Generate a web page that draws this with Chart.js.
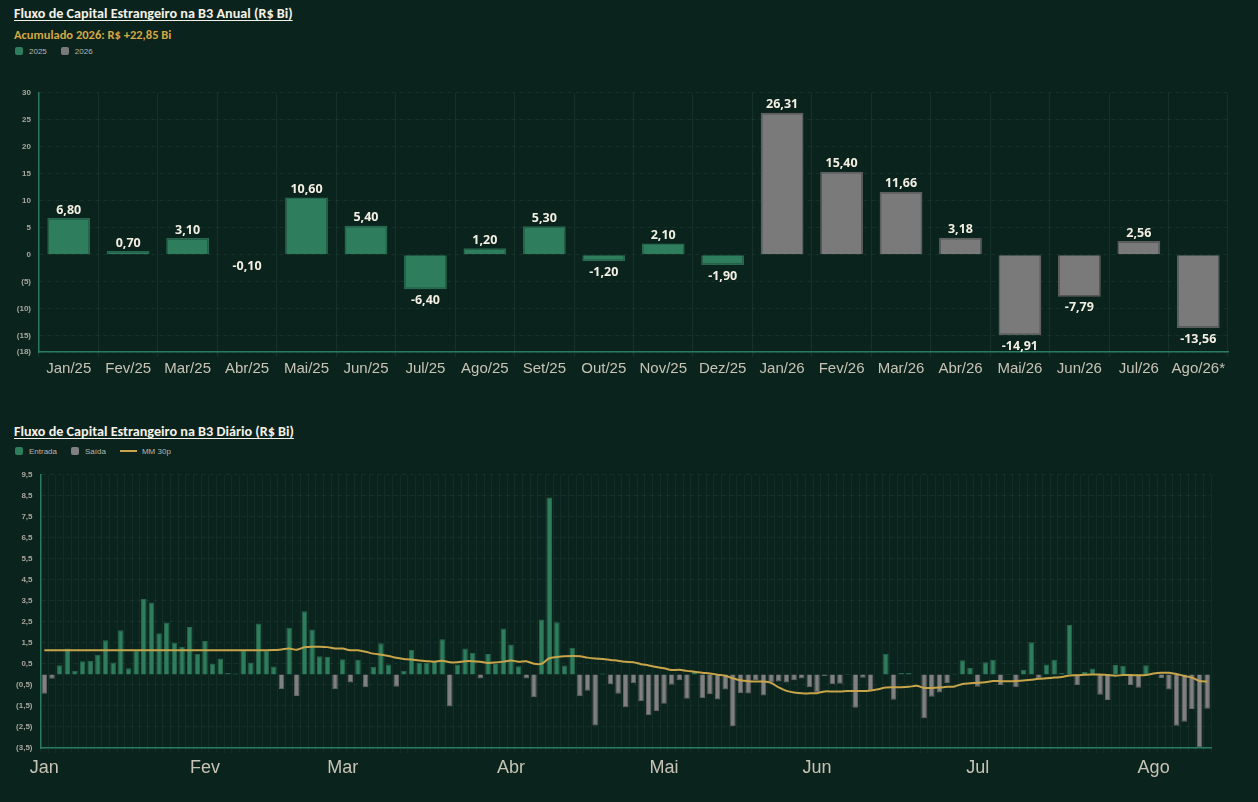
<!DOCTYPE html>
<html lang="pt-BR">
<head>
<meta charset="utf-8">
<title>Fluxo de Capital Estrangeiro na B3</title>
<script src="https://cdn.jsdelivr.net/npm/chart.js@4.4.1/dist/chart.umd.min.js"></script>
<style>
  html, body { margin: 0; padding: 0; background: #0b231d; }
  body {
    width: 1258px; height: 802px; position: relative; overflow: hidden;
    font-family: Carlito, "Liberation Sans Narrow", "DejaVu Sans Condensed", sans-serif;
  }
  .titulo {
    position: absolute; left: 14px; margin: 0;
    color: #f4f1e8; font-weight: 700; font-size: 14.2px; line-height: 16px;
    text-decoration: underline; text-underline-offset: 2px; white-space: nowrap;
  }
  .subtitulo {
    position: absolute; left: 14px; top: 28px; margin: 0;
    color: #d4a843; font-weight: 700; font-size: 12.5px; line-height: 14px;
  }
  .legenda {
    position: absolute; left: 15px; display: flex; align-items: center;
    font-family: "Liberation Sans", sans-serif; font-size: 8px; color: #b7b7b2; height: 10px;
  }
  .item { display: flex; align-items: center; margin-right: 14px; }
  .caixa { width: 8px; height: 8px; border-radius: 2px; margin-right: 6px; }
  .linha { width: 17px; height: 2px; background: #c8a54a; margin-right: 5px; }
  .grafico { position: absolute; left: 0; width: 1258px; }
</style>
</head>
<body>

<h1 class="titulo" style="top:5px">Fluxo de Capital Estrangeiro na B3 Anual (R$ Bi)</h1>
<p class="subtitulo">Acumulado 2026: R$ +22,85 Bi</p>
<div class="legenda" style="top:46px">
  <span class="item"><span class="caixa" style="background:#2e7d5c"></span>2025</span>
  <span class="item"><span class="caixa" style="background:#7a7a7a"></span>2026</span>
</div>
<div class="grafico" style="top:80px; height:300px"><canvas id="grafico-anual"></canvas></div>

<h1 class="titulo" style="top:423px">Fluxo de Capital Estrangeiro na B3 Diário (R$ Bi)</h1>
<div class="legenda" style="top:446px">
  <span class="item"><span class="caixa" style="background:#2e7d5c"></span>Entrada</span>
  <span class="item"><span class="caixa" style="background:#808080"></span>Saída</span>
  <span class="item"><span class="linha"></span>MM 30p</span>
</div>
<div class="grafico" style="top:462px; height:326px"><canvas id="grafico-diario"></canvas></div>

<script>
// Anual section
const rotulosAnual = [
  "Jan/25", "Fev/25", "Mar/25", "Abr/25", "Mai/25", "Jun/25", "Jul/25", "Ago/25",
  "Set/25", "Out/25", "Nov/25", "Dez/25",
  "Jan/26", "Fev/26", "Mar/26", "Abr/26", "Mai/26", "Jun/26", "Jul/26", "Ago/26*"
];
const fluxo2025 = [6.80, 0.70, 3.10, -0.10, 10.60, 5.40, -6.40, 1.20, 5.30, -1.20, 2.10, -1.90];
const fluxo2026 = [26.31, 15.40, 11.66, 3.18, -14.91, -7.79, 2.56, -13.56];
const ticksAnual = [-18, -15, -10, -5, 0, 5, 10, 15, 20, 25, 30];

// Diario section
const mesesDiario = ["Jan", "Fev", "Mar", "Abr", "Mai", "Jun", "Jul", "Ago"];
const pregoesPorMes = [21, 18, 22, 20, 20, 21, 23, 8];
const fluxoDiario = [
  // Jan
  -0.92, -0.21, 0.44, 1.24, 0.18, 0.63, 0.65, 0.94, 1.63, 0.57, 2.10,
  0.30, 1.13, 3.59, 3.42, 1.96, 2.47, 1.52, 1.32, 2.26, 0.98,
  // Fev
  1.59, 0.51, 0.76, 0.07, 0.04, 1.15, 0.57, 2.43, 1.13, 0.38, -0.70,
  2.22, -1.03, 3.01, 2.14, 0.86, 0.83, -0.71,
  // Mar
  0.72, -0.38, 0.70, -0.61, 0.37, 1.48, 0.47, -0.58, 0.17, 1.17, 0.56,
  0.56, 0.63, 1.68, -1.52, 0.47, 1.24, 1.03, -0.19, 0.97, 0.50, 2.19,
  // Abr
  1.42, 0.39, -0.19, -1.08, 2.62, 8.42, 2.48, 0.42, 1.27, -1.04,
  -0.77, -2.43, 0.04, -0.47, -0.92, -1.56, -0.42, -1.28, -1.94, -1.75,
  // Mai
  -1.39, -0.49, -0.28, -1.16, 0.12, -1.13, -0.94, -1.19, -0.72, -2.46,
  -0.89, -0.91, -0.27, -1.00, -0.38, -0.34, -0.38, -0.28, -0.19, -0.61,
  // Jun
  -0.85, -0.07, -0.47, -0.44, 0.03, -1.58, -0.16, -0.78, 0, 0.99, -1.21,
  0.07, 0.07, 0, -2.08, -1.06, -0.86, -0.41, 0.03, 0.67, 0.31,
  // Jul
  -0.59, 0.58, 0.70, -0.50, 0.02, -0.61, 0.22, 1.53, -0.19, 0.47, 0.70, 0.07,
  2.36, -0.50, 0.12, 0.28, -0.97, -1.22, 0.45, 0.41, -0.50, -0.63, 0.44,
  // Ago
  0, -0.17, -0.72, -2.44, -2.25, -1.64, -3.47, -1.63
];
const mediaMovel30 = [
  // Jan
  1.15, 1.15, 1.15, 1.15, 1.15, 1.15, 1.15, 1.15, 1.15, 1.15, 1.15,
  1.15, 1.15, 1.15, 1.15, 1.15, 1.15, 1.15, 1.15, 1.15, 1.15,
  // Fev
  1.15, 1.15, 1.15, 1.15, 1.15, 1.15, 1.15, 1.15, 1.15, 1.16, 1.19,
  1.23, 1.18, 1.29, 1.32, 1.32, 1.30, 1.24,
  // Mar
  1.23, 1.15, 1.15, 1.08, 0.99, 0.94, 0.88, 0.79, 0.74, 0.71, 0.66,
  0.63, 0.61, 0.65, 0.58, 0.58, 0.63, 0.63, 0.60, 0.55, 0.57, 0.61,
  // Abr
  0.66, 0.61, 0.63, 0.51, 0.51, 0.77, 0.83, 0.87, 0.88, 0.87,
  0.80, 0.76, 0.74, 0.69, 0.65, 0.60, 0.58, 0.49, 0.43, 0.35,
  // Mai
  0.29, 0.21, 0.22, 0.17, 0.13, 0.08, 0.05, -0.01, -0.06, -0.18,
  -0.28, -0.32, -0.34, -0.34, -0.40, -0.62, -0.78, -0.86, -0.90, -0.90,
  // Jun
  -0.89, -0.81, -0.81, -0.81, -0.79, -0.79, -0.79, -0.76, -0.70, -0.62, -0.61,
  -0.61, -0.59, -0.54, -0.64, -0.64, -0.62, -0.59, -0.57, -0.45, -0.42,
  // Jul
  -0.40, -0.37, -0.31, -0.32, -0.32, -0.31, -0.29, -0.25, -0.21, -0.18, -0.15, -0.12,
  -0.05, -0.04, -0.01, 0.00, 0.00, -0.03, -0.06, -0.03, -0.03, -0.04, -0.03,
  // Ago
  0.04, 0.08, 0.08, 0.02, -0.07, -0.15, -0.31, -0.34
];
const ticksDiario = [-3.5, -2.5, -1.5, -0.5, 0.5, 1.5, 2.5, 3.5, 4.5, 5.5, 6.5, 7.5, 8.5, 9.5];

// Colors
const corVerde = "#2e7d5c";
const corVerdeBorda = "#27694e";
const corCinza = "#7a7a7a";
const corCinzaBorda = "#5e5e5e";
const corEixo = "#2a7a62";
const corGrade = "rgba(130, 180, 160, 0.10)";
const corGradeDiaria = "rgba(130, 180, 160, 0.065)";
const corTickX = "#c7c3b5";
const corTickY = "#a9a79f";

// Formats "6.8" as "6,80" (labels above bars)
function formatarValor(v) {
  return v.toFixed(2).replace(".", ",");
}

// Negative ticks go in parentheses
function formatarTickAnual(v) {
  return v < 0 ? `(${Math.abs(v)})` : `${v}`;
}

function formatarTickDiario(v) {
  const texto = Math.abs(v).toFixed(1).replace(".", ",");
  return v < 0 ? `(${texto})` : texto;
}

// Draws the value above (or below) each bar
const rotulosValor = {
  id: "rotulosValor",
  afterDatasetsDraw(chart) {
    const ctx = chart.ctx;
    ctx.save();
    ctx.font = "700 12.5px 'Open Sans'";
    ctx.fillStyle = "#f3efe2";
    ctx.textAlign = "center";
    ctx.textBaseline = "middle";
    chart.data.datasets.forEach((ds, i) => {
      const meta = chart.getDatasetMeta(i);
      meta.data.forEach((bar, j) => {
        const v = ds.data[j];
        if (v === null || v === undefined) return;
        const y = v >= 0 ? bar.y - 8 : bar.y + 11;
        ctx.fillText(formatarValor(v), bar.x, y);
      });
    });
    ctx.restore();
  }
};

Chart.defaults.font.family = "'Liberation Sans', Arial, sans-serif";
Chart.defaults.animation = false;

// Annual chart
const vazio2025 = rotulosAnual.slice(fluxo2025.length).map(() => null);
const vazio2026 = fluxo2025.map(() => null);

const anualChart = new Chart(document.getElementById("grafico-anual"), {
  type: "bar",
  data: {
    labels: rotulosAnual,
    datasets: [
      {
        label: "2025",
        data: fluxo2025.concat(vazio2025),
        backgroundColor: corVerde,
        borderColor: corVerdeBorda,
        borderWidth: 1.5,
        grouped: false
      },
      {
        label: "2026",
        data: vazio2026.concat(fluxo2026),
        backgroundColor: corCinza,
        borderColor: corCinzaBorda,
        borderWidth: 1.5,
        grouped: false
      }
    ]
  },
  options: {
    responsive: true,
    maintainAspectRatio: false,
    layout: { padding: { top: 11, right: 30, left: 0, bottom: 0 } },
    plugins: { legend: { display: false }, tooltip: { enabled: false } },
    scales: {
      x: {
        grid: { color: corGrade, tickLength: 5 },
        border: { color: corEixo, width: 1.5 },
        ticks: { color: corTickX, font: { size: 15 }, padding: 3, maxRotation: 0 },
        afterFit: (scale) => { scale.height = 28; }
      },
      y: {
        min: -18,
        max: 30,
        grid: { color: corGrade, drawTicks: false },
        border: { color: corEixo, width: 1.5, dash: [4, 4] },
        ticks: {
          color: corTickY,
          font: { size: 8, weight: "bold" },
          padding: 8,
          callback: (v) => formatarTickAnual(v)
        },
        afterBuildTicks: (scale) => { scale.ticks = ticksAnual.map((v) => ({ value: v })); },
        afterFit: (scale) => { scale.width = 39; }
      }
    }
  },
  plugins: [rotulosValor]
});

// Daily chart
const rotulosDiario = [];
const inicioMes = [];
mesesDiario.forEach((mes, m) => {
  for (let n = 1; n <= pregoesPorMes[m]; n++) {
    if (n === 1) inicioMes.push(rotulosDiario.length);
    rotulosDiario.push(`${mes} ${n}`);
  }
});

const diarioChart = new Chart(document.getElementById("grafico-diario"), {
  type: "bar",
  data: {
    labels: rotulosDiario,
    datasets: [
      {
        type: "line",
        label: "MM 30p",
        data: mediaMovel30,
        borderColor: "#c8a54a",
        borderWidth: 2,
        pointRadius: 0,
        tension: 0.3,
        order: 0
      },
      {
        label: "Entrada",
        data: fluxoDiario.map((v) => (v > 0 ? v : null)),
        backgroundColor: corVerde,
        borderColor: corVerdeBorda,
        borderWidth: 1,
        grouped: false,
        order: 1
      },
      {
        label: "Saída",
        data: fluxoDiario.map((v) => (v < 0 ? v : null)),
        backgroundColor: "#808080",
        borderColor: "#666666",
        borderWidth: 1,
        grouped: false,
        order: 1
      }
    ]
  },
  options: {
    responsive: true,
    maintainAspectRatio: false,
    layout: { padding: { top: 9, right: 47, left: 0, bottom: 0 } },
    plugins: { legend: { display: false }, tooltip: { enabled: false } },
    scales: {
      x: {
        grid: { color: corGradeDiaria, tickLength: 5 },
        border: { color: corEixo, width: 1.5 },
        ticks: {
          color: corTickX,
          font: { size: 18 },
          padding: 4,
          autoSkip: false,
          maxRotation: 0,
          minRotation: 0,
          callback: (v, i) => (inicioMes.includes(i) ? mesesDiario[inicioMes.indexOf(i)] : "")
        },
        afterFit: (scale) => { scale.height = 40; }
      },
      y: {
        min: -3.5,
        max: 9.5,
        grid: { color: corGrade, drawTicks: false },
        border: { color: corEixo, width: 1.5, dash: [4, 4] },
        ticks: {
          color: corTickY,
          font: { size: 8, weight: "bold" },
          padding: 8,
          callback: (v) => formatarTickDiario(v)
        },
        afterBuildTicks: (scale) => { scale.ticks = ticksDiario.map((v) => ({ value: v })); },
        afterFit: (scale) => { scale.width = 40.5; }
      }
    }
  }
});
</script>
</body>
</html>
